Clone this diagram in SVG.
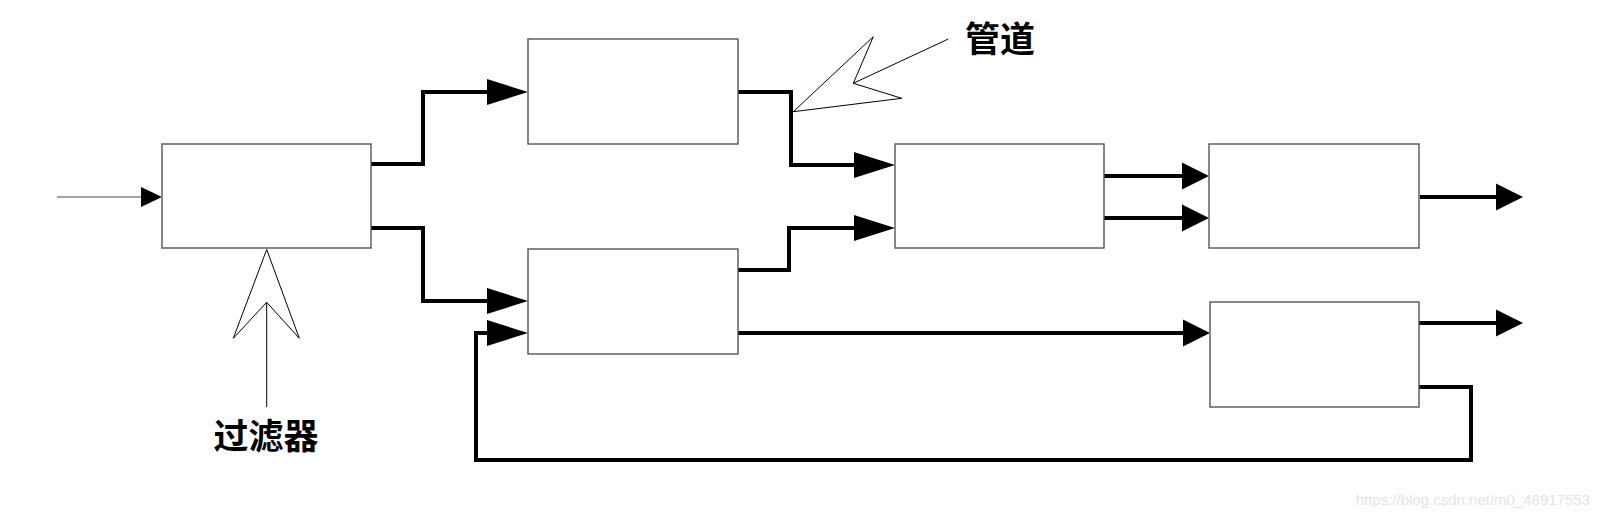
<svg xmlns="http://www.w3.org/2000/svg" width="1600" height="519" viewBox="0 0 1600 519">
<style>
.box{fill:#fff;stroke:#555;stroke-width:1.4}
.thick{fill:none;stroke:#000;stroke-width:4;stroke-linejoin:miter}
.thin{fill:none;stroke:#444;stroke-width:1.2}
.call{fill:#fff;stroke:#000;stroke-width:1}
.lbl{font-family:"Noto Sans CJK SC","Noto Sans",sans-serif;font-size:35px;font-weight:bold;fill:#000}
.wm{font-family:"Liberation Sans",Arial,sans-serif;font-size:15px;fill:#e4e4e4}
</style>
<defs>
<marker id="aL" markerUnits="userSpaceOnUse" markerWidth="42" markerHeight="26" refX="1" refY="13" orient="auto" overflow="visible"><path d="M0,0 L41,13 L0,26 Z" fill="#000"/></marker>
<marker id="aS" markerUnits="userSpaceOnUse" markerWidth="28" markerHeight="27" refX="1" refY="13.5" orient="auto" overflow="visible"><path d="M0,0 L27,13.5 L0,27 Z" fill="#000"/></marker>
<marker id="aT" markerUnits="userSpaceOnUse" markerWidth="22" markerHeight="20" refX="1" refY="10" orient="auto" overflow="visible"><path d="M0,0 L21,10 L0,20 Z" fill="#000"/></marker>
</defs>
<rect width="1600" height="519" fill="#fff"/>
<g id="connectors">
<path class="thin" d="M57,197 H142" marker-end="url(#aT)"/>
<path class="thick" d="M371,164 H423 V92 H488" marker-end="url(#aL)"/>
<path class="thick" d="M371,228 H423 V301 H488" marker-end="url(#aL)"/>
<path class="thick" d="M738,92 H791 V165 H855" marker-end="url(#aL)"/>
<path class="thick" d="M738,270 H789 V228 H855" marker-end="url(#aL)"/>
<path class="thick" d="M1104,176 H1183" marker-end="url(#aS)"/>
<path class="thick" d="M1104,218 H1183" marker-end="url(#aS)"/>
<path class="thick" d="M1420,197 H1497" marker-end="url(#aS)"/>
<path class="thick" d="M738,333 H1184" marker-end="url(#aS)"/>
<path class="thick" d="M1419,323 H1497" marker-end="url(#aS)"/>
<path class="thick" d="M1419,387 H1471 V460 H476 V333 H488" marker-end="url(#aL)"/>
</g>
<g id="box1"><rect class="box" x="162" y="144" width="209" height="104"/></g>
<g id="box2"><rect class="box" x="528" y="39" width="210" height="105"/></g>
<g id="box3"><rect class="box" x="528" y="249" width="210" height="105"/></g>
<g id="box4"><rect class="box" x="895" y="144" width="209" height="104"/></g>
<g id="box5"><rect class="box" x="1209" y="144" width="210" height="104"/></g>
<g id="box6"><rect class="box" x="1210" y="302" width="209" height="105"/></g>
<g id="filter">
<polygon class="call" points="266.7,249.5 233.3,338.3 266.7,302.3 299.3,338.3"/>
<line class="call" x1="266.7" y1="302.3" x2="266.7" y2="407"/>
<text class="lbl" x="266" y="449" text-anchor="middle">过滤器</text>
</g>
<g id="pipe">
<polygon class="call" points="793.3,111.7 873.3,36.7 853.3,83.3 901.7,98.3"/>
<line class="call" x1="853.3" y1="83.3" x2="948.3" y2="39"/>
<text class="lbl" x="1000" y="52" text-anchor="middle">管道</text>
</g>
<text class="wm" x="1590" y="505" text-anchor="end">https://blog.csdn.net/m0_48917553</text>
</svg>
